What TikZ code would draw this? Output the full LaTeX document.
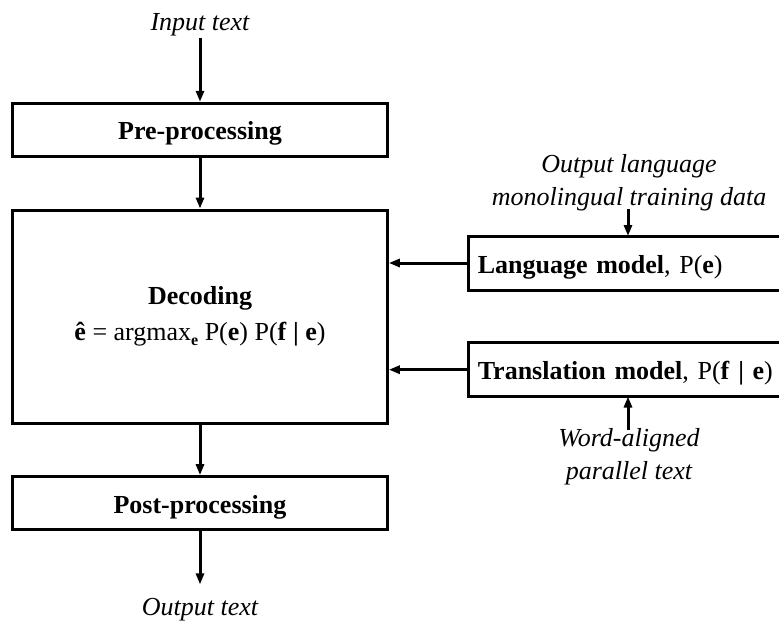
\documentclass[tikz,border=0pt]{standalone}
\usepackage{fontspec}
\setmainfont{Liberation Serif}
\usetikzlibrary{arrows.meta}
\begin{document}
\begin{tikzpicture}[x=1pt,y=-1pt,
  every node/.style={font=\fontsize{26}{33}\selectfont},
  stagebox/.style={draw,line width=3pt,rectangle,inner sep=0pt,text height=22pt,text depth=2pt,
     font=\fontsize{26}{33}\selectfont\bfseries},
  modelbox/.style={draw,line width=3pt,rectangle,anchor=west,minimum height=54pt,
     minimum width=316pt,text width=298pt,align=left,inner xsep=9pt,inner ysep=0pt,
     text height=22pt,text depth=2pt},
  datalabel/.style={font=\fontsize{26}{33}\selectfont\itshape,align=center,inner sep=2pt},
  flow/.style={line width=3pt,-{Triangle[length=11pt,width=8pt]}}
]
\useasboundingbox (0,0) rectangle (779,623);
\clip (0,0) rectangle (779,623);

% main pipeline
\node[datalabel] (input) at (200,25) {Input text};
\node[stagebox,minimum width=374.6pt,minimum height=52.7pt] (pre) at (200,129.7) {Pre-processing};
\node[draw,line width=3pt,rectangle,minimum width=374.6pt,minimum height=213.3pt] (dec) at (200,316.7) {};
\node[align=center,inner sep=0pt,font=\fontsize{26}{36}\selectfont] (dectext) at (200,316)
  {\textbf{Decoding}\\\textbf{ê} = argmax\raisebox{-0.45ex}{\fontsize{16}{16}\selectfont\textbf{e}} P(\textbf{e}) P(\textbf{f} \textbf{|} \textbf{e})};
\node[stagebox,minimum width=374.6pt,minimum height=53.3pt] (post) at (200,503.3) {Post-processing};
\node[datalabel] (output) at (200,610) {Output text};

% models feeding the decoder
\node[modelbox] (lm) at (467.3,263) {\textbf{Language model}, P(\textbf{e})};
\node[modelbox] (tm) at (467.3,369.7) {\textbf{Translation model}, P(\textbf{f} \textbf{|} \textbf{e})};
\node[datalabel] (mono) at (629,183) {Output language\\monolingual training data};
\node[datalabel] (wa) at (629,456.5) {Word-aligned\\parallel text};

\coordinate (lmin) at (628,236);
\coordinate (tmin) at (628,396.5);

% connectors
\draw[flow] (input.south) -- (pre.north);
\draw[flow] (pre.south) -- (dec.north);
\draw[flow] (dec.south) -- (post.north);
\draw[flow] (post.south) -- ++(0,53);
\draw[flow] (lm.west) -- (lm.west -| dec.east);
\draw[flow] (tm.west) -- (tm.west -| dec.east);
\draw[flow] (mono.south) ++(-1,-4) -- (lmin);
\draw[flow] (wa.north) ++(-1,4) -- (tmin);
\end{tikzpicture}
\end{document}
